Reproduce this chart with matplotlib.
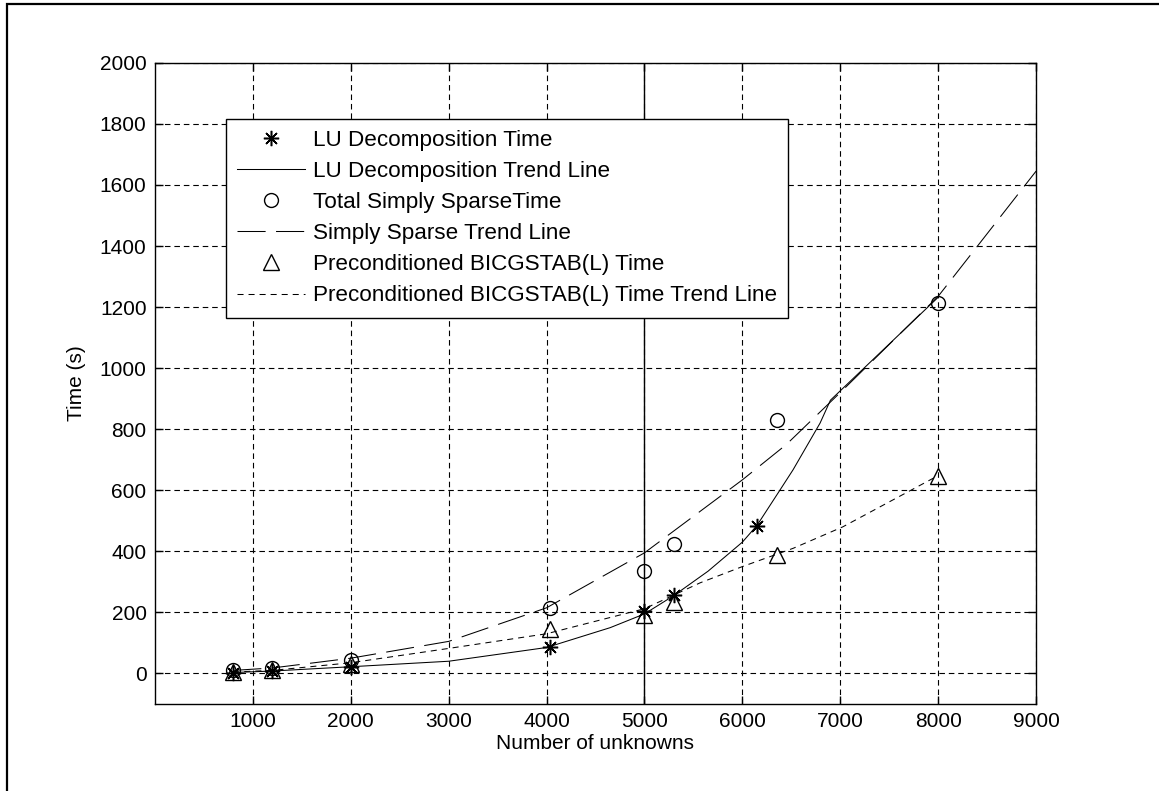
import matplotlib
matplotlib.use('Agg')
import matplotlib.pyplot as plt
from matplotlib.patches import Rectangle

plt.rcParams['font.family'] = ['Liberation Sans', 'DejaVu Sans']

# measured points
lu_x = [800, 1200, 2000, 4040, 5000, 5300, 6150]
lu_y = [3, 8, 22, 88, 205, 257, 483]

ss_x = [800, 1200, 2000, 4040, 5000, 5300, 6350, 8000]
ss_y = [12, 18, 45, 215, 335, 425, 830, 1212]

bi_x = [800, 1200, 2000, 4040, 5000, 5300, 6350, 8000]
bi_y = [5, 10, 30, 145, 192, 234, 387, 648]

# trend lines
lu_trend_x = [800, 1200, 2000, 3000, 4000, 4650, 5000, 5300, 5650, 6000, 6150, 6385, 6518, 6794, 6900, 8000]
lu_trend_y = [3, 8, 22, 40, 85, 150, 195, 255, 335, 430, 485, 601, 667, 820, 895, 1232]

ss_trend_x = [800, 1200, 2000, 3000, 4000, 5000, 6000, 6450, 7000, 8000, 9000]
ss_trend_y = [10, 18, 50, 105, 215, 395, 634, 750, 920, 1235, 1645]

bi_trend_x = [800, 1200, 2000, 3000, 4000, 5000, 5570, 6000, 6520, 7025, 8000]
bi_trend_y = [5, 10, 35, 82, 130, 212, 297, 350, 410, 480, 648]

x_ticks = [1000, 2000, 3000, 4000, 5000, 6000, 7000, 8000, 9000]
y_ticks = [0, 200, 400, 600, 800, 1000, 1200, 1400, 1600, 1800, 2000]
marker_line_x = 5000

fig = plt.figure(figsize=(11.59, 7.91), dpi=100)
ax = fig.add_axes([0.1337, 0.110, 0.7602, 0.8106])

lw = 0.75
ax.plot(lu_x, lu_y, linestyle='none', marker=(8, 2, 0), ms=11, mec='k', mew=1.1,
        label='LU Decomposition Time')
ax.plot(lu_trend_x, lu_trend_y, '-', color='k', lw=lw, label='LU Decomposition Trend Line')
ax.plot(ss_x, ss_y, linestyle='none', marker='o', ms=10, mfc='none', mec='k', mew=1.0,
        label='Total Simply SparseTime')
ax.plot(ss_trend_x, ss_trend_y, color='k', lw=lw, linestyle=(0, (27, 10)),
        label='Simply Sparse Trend Line')
ax.plot(bi_x, bi_y, linestyle='none', marker='^', ms=11, mfc='none', mec='k', mew=1.0,
        label='Preconditioned BICGSTAB(L) Time')
ax.plot(bi_trend_x, bi_trend_y, color='k', lw=lw, linestyle=(0, (5.8, 4.8)),
        label='Preconditioned BICGSTAB(L) Time Trend Line')

ax.axvline(marker_line_x, color='k', lw=1.0, zorder=1)

ax.set_xlim(0, 9000)
ax.set_ylim(-100, 2000)
ax.set_xticks(x_ticks)
ax.set_yticks(y_ticks)
ax.grid(True, color='k', lw=0.8, linestyle=(0, (5, 3.5)))
ax.set_axisbelow(True)
ax.tick_params(direction='in', top=True, right=True, length=6, width=1, labelsize=15, pad=6)
for s in ax.spines.values():
    s.set_linewidth(1.0)

ax.set_xlabel('Number of unknowns', fontsize=15, labelpad=2)
ax.set_ylabel('Time (s)', fontsize=15, labelpad=10)

leg = ax.legend(loc='upper left', bbox_to_anchor=(0.0806, 0.913), fontsize=16.2,
                numpoints=1, handlelength=3.0, handletextpad=0.35, borderpad=0.5,
                labelspacing=0.45, fancybox=False, framealpha=1, edgecolor='k',
                borderaxespad=0)
leg.get_frame().set_linewidth(1.0)

# outer frame, cut off at right and bottom
fig.patches.append(Rectangle((0.006, -0.1), 1.2, 1.095, transform=fig.transFigure,
                             fill=False, lw=1.6, edgecolor='k'))

fig.savefig('out.png', dpi=100)
